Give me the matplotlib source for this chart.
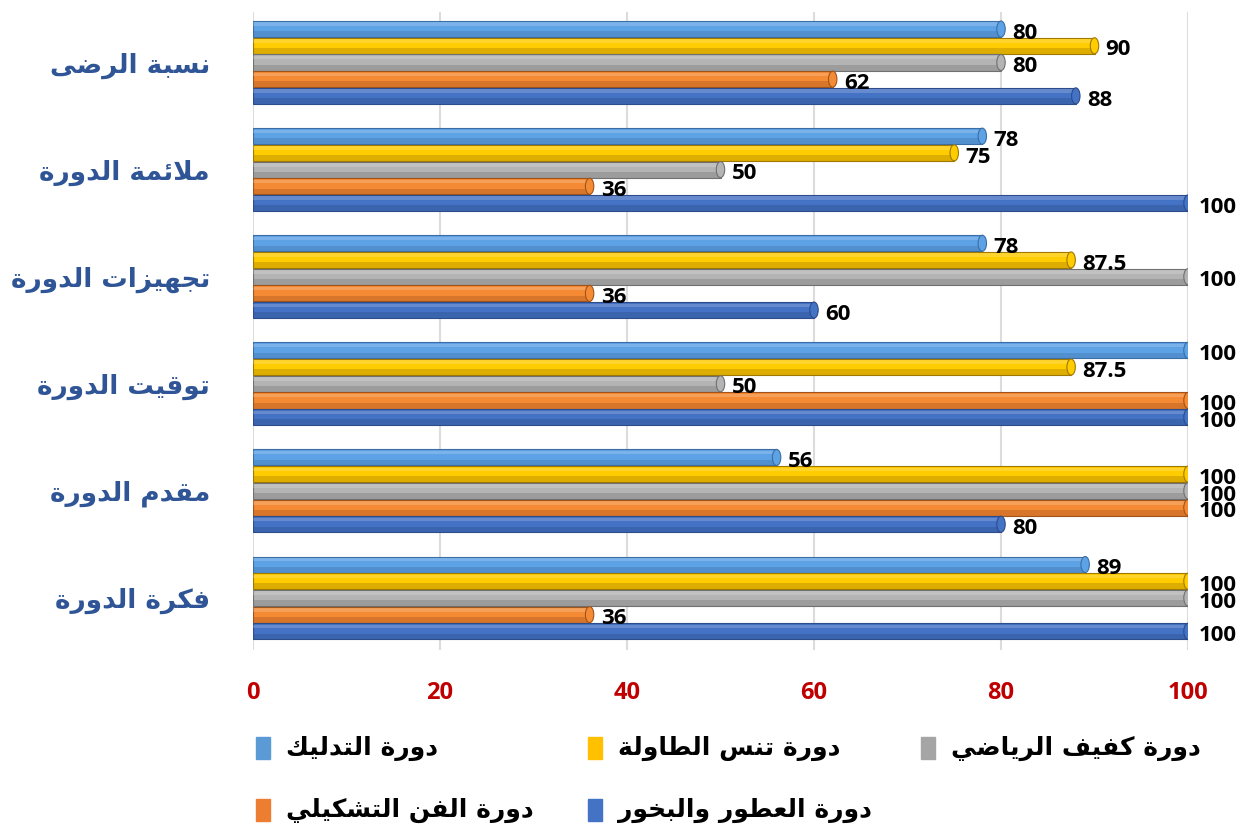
import matplotlib
matplotlib.use('Agg')
import matplotlib.pyplot as plt
import numpy as np
from matplotlib.patches import Rectangle, Ellipse

# chart data
categories = ['نسبة الرضى', 'ملائمة الدورة', 'تجهيزات الدورة',
              'توقيت الدورة', 'مقدم الدورة', 'فكرة الدورة']
series_names = ['دورة التدليك', 'دورة تنس الطاولة', 'دورة كفيف الرياضي',
                'دورة الفن التشكيلي', 'دورة العطور والبخور']
massage = [80, 78, 78, 100, 56, 89]
table_tennis = [90, 75, 87.5, 87.5, 100, 100]
blind_sport = [80, 50, 100, 50, 100, 100]
fine_art = [62, 36, 36, 100, 100, 36]
perfume = [88, 100, 60, 100, 80, 100]
x_ticks = [0, 20, 40, 60, 80, 100]

series = [massage, table_tennis, blind_sport, fine_art, perfume]
colors = ['#5EA2E6', '#FFCC00', '#B4B4B4', '#F58A34', '#4472C4']
legend_colors = ['#5B9BD5', '#FFC000', '#A5A5A5', '#ED7D31', '#4472C4']
dark = ['#3A6EA5', '#A07800', '#707070', '#A0531A', '#2C4C8A']

# --- simple arabic shaping (matplotlib has no complex text layout) ---
_order = [(0x621, 1), (0x622, 2), (0x623, 2), (0x624, 2), (0x625, 2), (0x626, 4),
          (0x627, 2), (0x628, 4), (0x629, 2), (0x62A, 4), (0x62B, 4), (0x62C, 4),
          (0x62D, 4), (0x62E, 4), (0x62F, 2), (0x630, 2), (0x631, 2), (0x632, 2),
          (0x633, 4), (0x634, 4), (0x635, 4), (0x636, 4), (0x637, 4), (0x638, 4),
          (0x639, 4), (0x63A, 4), (0x641, 4), (0x642, 4), (0x643, 4), (0x644, 4),
          (0x645, 4), (0x646, 4), (0x647, 4), (0x648, 2), (0x649, 2), (0x64A, 4)]
FORMS = {}
_cp = 0xFE80
for base, n in _order:
    FORMS[chr(base)] = [chr(_cp + k) for k in range(n)]
    _cp += n
LAM_ALEF = {'ا': ('\uFEFB', '\uFEFC'), 'أ': ('\uFEF7', '\uFEF8'),
            'إ': ('\uFEF9', '\uFEFA'), 'آ': ('\uFEF5', '\uFEF6')}


def joins_next(ch):
    return ch in FORMS and len(FORMS[ch]) == 4


def shape(text):
    out = []
    chars = list(text)
    i = 0
    while i < len(chars):
        ch = chars[i]
        if ch not in FORMS:
            out.append(ch)
            i += 1
            continue
        prev = chars[i - 1] if i > 0 else ''
        nxt = chars[i + 1] if i + 1 < len(chars) else ''
        from_prev = joins_next(prev)
        if ch == 'ل' and nxt in LAM_ALEF:
            out.append(LAM_ALEF[nxt][1 if from_prev else 0])
            i += 2
            continue
        to_next = joins_next(ch) and nxt in FORMS
        f = FORMS[ch]
        if from_prev and to_next:
            out.append(f[3])
        elif from_prev:
            out.append(f[1])
        elif to_next:
            out.append(f[2])
        else:
            out.append(f[0])
        i += 1
    return ''.join(out)[::-1]


W, H = 1255, 827
fig = plt.figure(figsize=(W / 100, H / 100), dpi=100)
ax = fig.add_axes([253 / W, 1 - 650 / H, 935 / W, 638 / H])

slot = 0.156
bh = 0.15
y = np.arange(len(categories))
for j, vals in enumerate(series):
    yy = y + (j - 2) * slot
    ax.barh(yy, vals, height=bh, color=colors[j], edgecolor=dark[j], linewidth=0.8, zorder=3)
    # shading for the cylinder look
    ax.barh(yy + bh * 0.32, vals, height=bh * 0.36, color=dark[j], alpha=0.35, linewidth=0, zorder=4)
    ax.barh(yy - bh * 0.3, vals, height=bh * 0.22, color='white', alpha=0.18, linewidth=0, zorder=4)
    for yv, v in zip(yy, vals):
        # rounded end cap
        ax.add_patch(Ellipse((v, yv), 0.9, bh, facecolor=colors[j], edgecolor=dark[j],
                             linewidth=0.8, zorder=4.5))
        lab = ('%g' % v)
        ax.annotate(lab, xy=(v, yv), xytext=(8, -3), textcoords='offset points',
                    ha='left', va='center', fontsize=16, fontweight='bold',
                    family='Open Sans', color='black', zorder=5, annotation_clip=False)

ax.set_xlim(0, 100)
ax.set_ylim(5.486, -0.4715)
ax.set_xticks(x_ticks)
ax.set_xticklabels([str(t) for t in x_ticks], color='#C00000', fontsize=17,
                   fontweight='bold', family='Open Sans')
ax.set_yticks(y)
ax.set_yticklabels([shape(c) for c in categories], color='#2F5597', fontsize=19,
                   fontweight='bold', family='DejaVu Sans')
ax.tick_params(axis='x', length=0, pad=22)
ax.tick_params(axis='y', length=0, pad=31)
ax.grid(axis='x', color='#DCDCDC', linewidth=1.5, zorder=0)
for s in ax.spines.values():
    s.set_visible(False)

# legend, laid out right to left like the original
legend_pos = [(256, 748, 0), (588, 748, 1), (921, 748, 2), (256, 810, 3), (588, 810, 4)]
for px, py, k in legend_pos:
    fig.patches.append(Rectangle((px / W, 1 - (py + 11) / H), 14 / W, 22 / H,
                                 transform=fig.transFigure, color=legend_colors[k]))
    fig.text((px + 30) / W, 1 - py / H, shape(series_names[k]), ha='left', va='center',
             fontsize=18, fontweight='bold', family='DejaVu Sans', color='black')

plt.savefig('out.png', dpi=100)
